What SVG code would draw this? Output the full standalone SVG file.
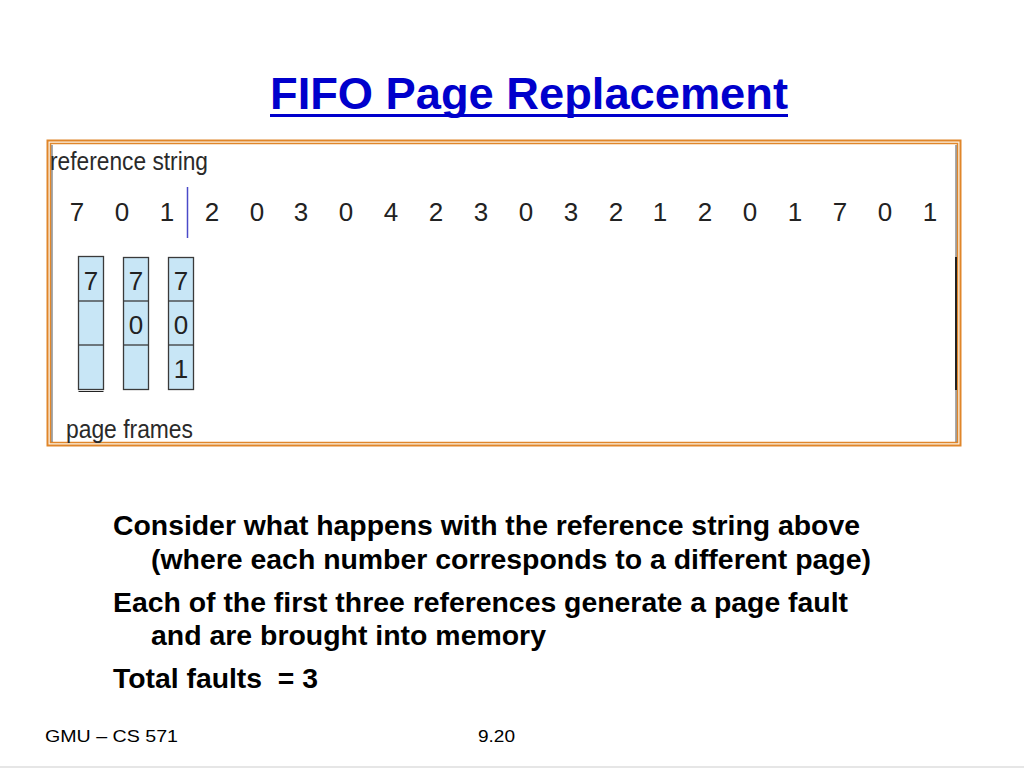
<svg xmlns="http://www.w3.org/2000/svg" width="1024" height="768" viewBox="0 0 1024 768">
<style>
.title{font-family:"Liberation Sans",Arial,sans-serif;font-weight:bold;font-size:45px;fill:#0000cc}
.body{font-family:"Liberation Sans",Arial,sans-serif;font-weight:bold;font-size:27px;fill:#000;white-space:pre}
.lbl{font-family:"Liberation Sans",Arial,sans-serif;font-size:25px;fill:#2a2a2a}
.num{font-family:"Liberation Sans",Arial,sans-serif;font-size:26px;fill:#222;text-anchor:middle}
.cell{fill:#c8e6f6;stroke:#3a3a3a;stroke-width:1.3}
.foot{font-family:"Liberation Sans",Arial,sans-serif;font-size:17px;fill:#000}
</style>
<rect width="1024" height="768" fill="#fff"/>
<g id="title">
<text class="title" x="270" y="109" textLength="518" lengthAdjust="spacingAndGlyphs">FIFO Page Replacement</text>
<rect x="270" y="114" width="518" height="3" fill="#0000cc"/>
</g>
<g id="figure-frame">
<rect x="47.5" y="140.5" width="913" height="305" fill="#fdf3e6" stroke="#e0862a" stroke-width="2"/>
<rect x="50.5" y="143.5" width="907" height="299" fill="#fff" stroke="#e0862a" stroke-width="1.5"/>
<line x1="52" y1="145" x2="52" y2="442" stroke="#555" stroke-width="1"/>
<line x1="956" y1="145" x2="956" y2="442" stroke="#555" stroke-width="1"/>
<line x1="956" y1="257" x2="956" y2="390" stroke="#222" stroke-width="2"/>
</g>
<g id="reference-string">
<text class="lbl" x="50" y="170" textLength="158" lengthAdjust="spacingAndGlyphs">reference string</text>
<text class="num" x="77" y="221">7</text>
<text class="num" x="122" y="221">0</text>
<text class="num" x="167" y="221">1</text>
<text class="num" x="212" y="221">2</text>
<text class="num" x="257" y="221">0</text>
<text class="num" x="301" y="221">3</text>
<text class="num" x="346" y="221">0</text>
<text class="num" x="391" y="221">4</text>
<text class="num" x="436" y="221">2</text>
<text class="num" x="481" y="221">3</text>
<text class="num" x="526" y="221">0</text>
<text class="num" x="571" y="221">3</text>
<text class="num" x="616" y="221">2</text>
<text class="num" x="660" y="221">1</text>
<text class="num" x="705" y="221">2</text>
<text class="num" x="750" y="221">0</text>
<text class="num" x="795" y="221">1</text>
<text class="num" x="840" y="221">7</text>
<text class="num" x="885" y="221">0</text>
<text class="num" x="930" y="221">1</text>
</g>
<g id="divider">
<line x1="187.5" y1="187" x2="187.5" y2="238" stroke="#4a4ac8" stroke-width="1.5"/>
</g>
<g id="frame-1">
<rect class="cell" x="78.5" y="256.5" width="25" height="133" stroke-width="1.8"/>
<line x1="78.5" y1="301" x2="103.5" y2="301" stroke="#3a3a3a" stroke-width="1.3"/>
<line x1="78.5" y1="345" x2="103.5" y2="345" stroke="#3a3a3a" stroke-width="1.3"/>
<line x1="78.5" y1="391.5" x2="103.5" y2="391.5" stroke="#222" stroke-width="1"/>
<text class="num" x="91" y="290">7</text>
</g>
<g id="frame-2">
<rect class="cell" x="123.5" y="257.5" width="25" height="132"/>
<line x1="123.5" y1="301" x2="148.5" y2="301" stroke="#3a3a3a" stroke-width="1.3"/>
<line x1="123.5" y1="345" x2="148.5" y2="345" stroke="#3a3a3a" stroke-width="1.3"/>
<text class="num" x="136" y="290">7</text>
<text class="num" x="136" y="334">0</text>
</g>
<g id="frame-3">
<rect class="cell" x="168.5" y="257.5" width="25" height="132"/>
<line x1="168.5" y1="301" x2="193.5" y2="301" stroke="#3a3a3a" stroke-width="1.3"/>
<line x1="168.5" y1="345" x2="193.5" y2="345" stroke="#3a3a3a" stroke-width="1.3"/>
<text class="num" x="181" y="290">7</text>
<text class="num" x="181" y="334">0</text>
<text class="num" x="181" y="378">1</text>
</g>
<g id="page-frames-label">
<text class="lbl" x="66" y="438" textLength="127" lengthAdjust="spacingAndGlyphs">page frames</text>
</g>
<g id="connectors"></g>
<g id="body-text">
<text class="body" x="113" y="535" textLength="747" lengthAdjust="spacingAndGlyphs">Consider what happens with the reference string above</text>
<text class="body" x="151" y="569" textLength="720" lengthAdjust="spacingAndGlyphs">(where each number corresponds to a different page)</text>
<text class="body" x="113" y="612" textLength="735" lengthAdjust="spacingAndGlyphs">Each of the first three references generate a page fault</text>
<text class="body" x="151" y="645" textLength="395" lengthAdjust="spacingAndGlyphs">and are brought into memory</text>
<text class="body" x="113" y="688" textLength="205" lengthAdjust="spacingAndGlyphs" xml:space="preserve">Total faults  = 3</text>
</g>
<g id="footer">
<text class="foot" x="45" y="742" textLength="133" lengthAdjust="spacingAndGlyphs">GMU – CS 571</text>
<text class="foot" x="478" y="742" textLength="37" lengthAdjust="spacingAndGlyphs">9.20</text>
<line x1="0" y1="767" x2="1024" y2="767" stroke="#e6e6e6" stroke-width="2"/>
</g>
</svg>
